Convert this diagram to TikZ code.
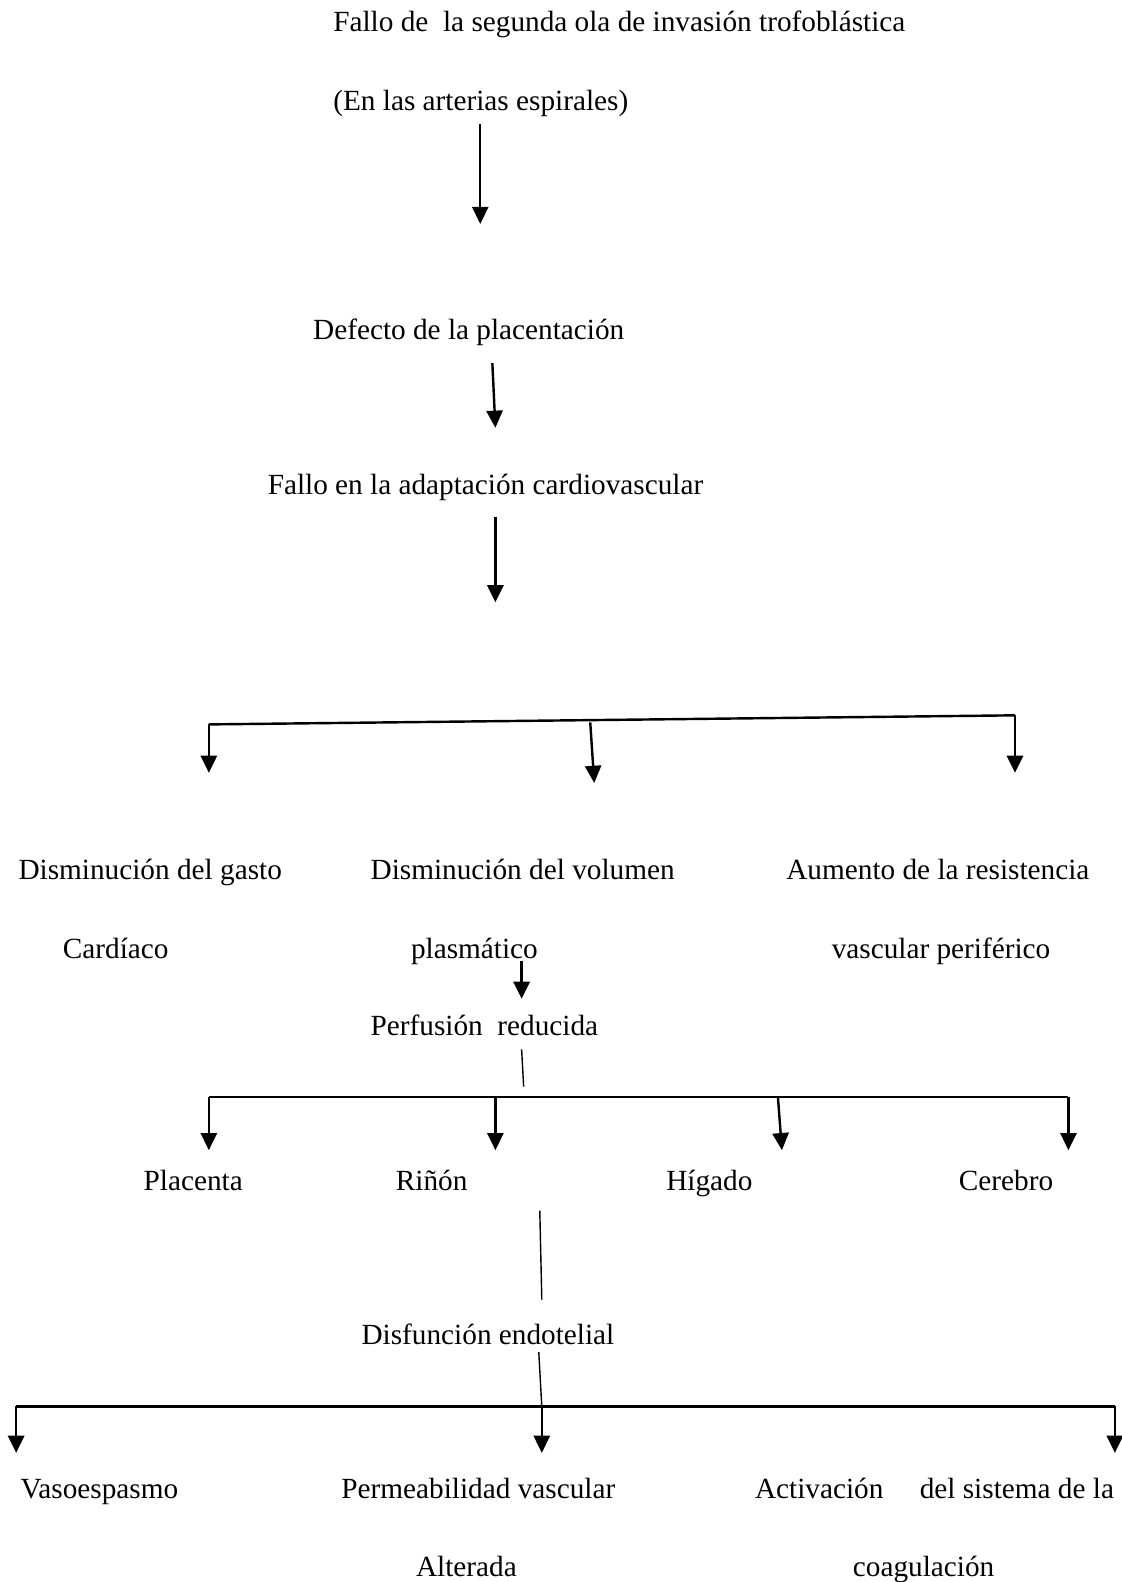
\documentclass[tikz,border=0pt]{standalone}
\usepackage{fontspec}
\setmainfont{Liberation Serif}
\usetikzlibrary{arrows.meta}
\begin{document}
\begin{tikzpicture}[x=0.5pt,y=-0.5pt,
  txt/.style={anchor=west,inner sep=0pt,text height=0.68em,text depth=0.22em,yshift=-2.5pt,font=\fontsize{14.5}{17}\selectfont},
  arr/.style={line width=1.2pt,-{Triangle[width=8pt,length=8.5pt]}},
  bar/.style={line width=1.2pt},
  thin/.style={line width=0.7pt}]
\useasboundingbox (0,0) rectangle (1112,1568);
% texts
\node[txt] (t1) at (330,22) {Fallo de\ \ la segunda ola de invasión trofoblástica};
\node[txt] (t2) at (330,100) {(En las arterias espirales)};
\node[txt] (t3) at (310,327) {Defecto de la placentación};
\node[txt] (t4) at (265,481) {Fallo en la adaptación cardiovascular};
\node[txt] (g1) at (18,862) {Disminución del gasto};
\node[txt] (g2) at (62,940) {Cardíaco};
\node[txt] (v1) at (367,862) {Disminución del volumen};
\node[txt] (v2) at (407,940) {plasmático};
\node[txt] (r1) at (779,862) {Aumento de la resistencia};
\node[txt] (r2) at (824,940) {vascular periférico};
\node[txt] (p) at (367,1017) {Perfusión\ \ reducida};
\node[txt] (o1) at (142,1170) {Placenta};
\node[txt] (o2) at (392,1170) {Riñón};
\node[txt] (o3) at (660,1170) {Hígado};
\node[txt] (o4) at (950,1170) {Cerebro};
\node[txt] (d) at (358,1323) {Disfunción endotelial};
\node[txt] (e1) at (20,1476) {Vasoespasmo};
\node[txt] (e2) at (338,1476) {Permeabilidad vascular};
\node[txt] (e2b) at (412,1553) {Alterada};
\node[txt] (e3) at (748,1476) {Activación\hspace{18pt}del sistema de la};
\node[txt] (e3b) at (845,1553) {coagulación};
% coordinates
\coordinate (a1s) at (476,123); \coordinate (a1e) at (476,222);
\coordinate (a2s) at (488,360); \coordinate (a2e) at (491,424);
\coordinate (a3s) at (491,512); \coordinate (a3e) at (491,597);
\coordinate (bL) at (207,718); \coordinate (bR) at (1006,709);
\coordinate (bM) at (585,716);
\coordinate (bLe) at (207,766); \coordinate (bMe) at (589,776); \coordinate (bRe) at (1006,766);
\coordinate (sa) at (517,952); \coordinate (sae) at (517,990);
\coordinate (pl) at (517,1040); \coordinate (ple) at (519,1077);
\coordinate (hL) at (207,1087); \coordinate (hR) at (1059,1087);
\coordinate (h2) at (491,1087); \coordinate (h3) at (771,1087);
\coordinate (hLe) at (207,1140); \coordinate (h2e) at (491,1140);
\coordinate (h3e) at (775,1140); \coordinate (hRe) at (1059,1140);
\coordinate (rl) at (535,1200); \coordinate (rle) at (537,1288);
\coordinate (dl) at (534,1340); \coordinate (kM) at (537,1394);
\coordinate (kL) at (16,1394); \coordinate (kR) at (1105,1394);
\coordinate (kLe) at (16,1440); \coordinate (kMe) at (537,1440); \coordinate (kRe) at (1105,1440);
% connectors
\draw[arr] (a1s) -- (a1e);
\draw[arr] (a2s) -- (a2e);
\draw[arr] (a3s) -- (a3e);
\draw[bar] (bL) -- (bR);
\draw[arr] (bL) -- (bLe);
\draw[arr] (bR) -- (bRe);
\draw[arr] (bM) -- (bMe);
\draw[arr] (sa) -- (sae);
\draw[thin] (pl) -- (ple);
\draw[bar] (hL) -- (hR);
\draw[arr] (hL) -- (hLe);
\draw[arr] (h2) -- (h2e);
\draw[arr] (h3) -- (h3e);
\draw[arr] (hR) -- (hRe);
\draw[thin] (rl) -- (rle);
\draw[thin] (dl) -- (kM);
\draw[bar] (kL) -- (kR);
\draw[arr] (kL) -- (kLe);
\draw[arr] (kM) -- (kMe);
\draw[arr] (kR) -- (kRe);
\end{tikzpicture}
\end{document}
